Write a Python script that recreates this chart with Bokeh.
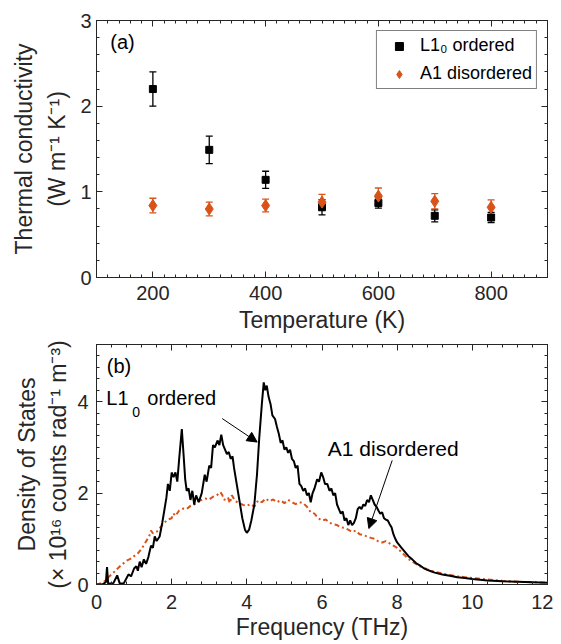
import numpy as np
from bokeh.plotting import figure
from bokeh.models import (ColumnDataSource, Whisker, TeeHead, LinearAxis, FixedTicker,
                          Range1d, Legend, LegendItem, Label, Arrow, NormalHead)
from bokeh.layouts import column
from bokeh.embed import file_html
from bokeh.resources import INLINE

# ---------------- panel (a): thermal conductivity ----------------
temperature = [200, 300, 400, 500, 600, 700, 800]
k_ordered = [2.20, 1.49, 1.14, 0.82, 0.87, 0.72, 0.70]
k_ordered_err = [0.20, 0.16, 0.10, 0.09, 0.06, 0.07, 0.06]
k_disordered = [0.84, 0.80, 0.84, 0.88, 0.95, 0.89, 0.82]
k_disordered_err = [0.085, 0.08, 0.075, 0.09, 0.095, 0.09, 0.085]
temp_ticks = [200, 400, 600, 800]
k_ticks = [0, 1, 2, 3]

# ---------------- panel (b): density of states ----------------
freq_ordered = [0.0, 0.15, 0.25, 0.28, 0.31, 0.45, 0.55, 0.62, 0.73, 0.85, 0.92, 1.0, 1.06, 1.1,
                1.15, 1.2, 1.26, 1.32, 1.38, 1.45, 1.5, 1.55, 1.6, 1.68, 1.75, 1.8, 1.86, 1.9,
                1.95, 2.0, 2.05, 2.1, 2.15, 2.2, 2.27, 2.32, 2.36, 2.4, 2.45, 2.5, 2.55, 2.6,
                2.65, 2.72, 2.8, 2.88, 2.93, 3.0, 3.05, 3.1, 3.15, 3.22, 3.27, 3.32, 3.37, 3.42,
                3.47, 3.52, 3.57, 3.62, 3.66, 3.72, 3.8, 3.88, 3.95, 4.0, 4.06, 4.12, 4.2, 4.27,
                4.33, 4.4, 4.45, 4.49, 4.53, 4.58, 4.63, 4.68, 4.75, 4.8, 4.85, 4.9, 4.95, 5.0,
                5.05, 5.1, 5.15, 5.2, 5.25, 5.3, 5.35, 5.4, 5.45, 5.5, 5.55, 5.6, 5.65, 5.7,
                5.75, 5.8, 5.87, 5.92, 5.98, 6.03, 6.08, 6.14, 6.2, 6.25, 6.3, 6.35, 6.4, 6.45,
                6.5, 6.55, 6.6, 6.65, 6.7, 6.75, 6.8, 6.85, 6.9, 6.95, 7.0, 7.05, 7.1, 7.15,
                7.2, 7.25, 7.3, 7.35, 7.4, 7.45, 7.5, 7.55, 7.6, 7.65, 7.7, 7.75, 7.8, 7.85,
                7.9, 7.95, 8.0, 8.1, 8.2, 8.3, 8.4, 8.5, 8.6, 8.7, 8.8, 8.9, 9.0, 9.2, 9.4,
                9.6, 9.8, 10.0, 10.4, 10.8, 11.2, 11.6, 12.0]
dos_ordered = [0.0, 0.0, 0.05, 0.38, 0.02, 0.03, 0.20, 0.02, 0.03, 0.22, 0.18, 0.35, 0.40, 0.30,
               0.50, 0.38, 0.55, 0.45, 0.60, 0.85, 0.80, 1.05, 0.95, 1.05, 1.35, 1.6, 1.9, 2.2,
               2.05, 2.45, 2.35, 2.45, 2.25, 2.75, 3.40, 2.8, 2.3, 2.05, 2.1, 1.85, 2.05, 1.75,
               1.95, 1.80, 2.0, 2.40, 2.25, 2.6, 2.55, 3.05, 3.0, 3.15, 3.05, 3.28, 3.05, 2.95,
               2.85, 2.90, 2.75, 2.80, 2.55, 2.25, 1.85, 1.45, 1.2, 1.13, 1.2, 1.4, 1.75, 2.4,
               3.2, 3.95, 4.42, 4.25, 4.35, 4.1, 3.95, 3.7, 3.62, 3.45, 3.3, 3.1, 3.15, 2.95,
               3.0, 2.88, 2.95, 2.75, 2.7, 2.55, 2.6, 2.2, 2.15, 2.05, 2.1, 1.95, 2.0, 1.8,
               2.0, 2.1, 2.3, 2.25, 2.45, 2.35, 2.2, 2.2, 2.05, 2.1, 1.95, 2.0, 1.75, 1.65,
               1.55, 1.6, 1.4, 1.45, 1.3, 1.4, 1.3, 1.35, 1.45, 1.65, 1.7, 1.65, 1.75, 1.72,
               1.85, 1.8, 1.95, 1.85, 1.75, 1.7, 1.62, 1.55, 1.58, 1.45, 1.42, 1.4, 1.32, 1.25,
               1.1, 1.0, 0.92, 0.82, 0.72, 0.62, 0.55, 0.47, 0.42, 0.36, 0.32, 0.29, 0.26, 0.22,
               0.19, 0.16, 0.14, 0.12, 0.09, 0.07, 0.06, 0.05, 0.04]

freq_disordered = [0.0, 0.1, 0.2, 0.3, 0.4, 0.5, 0.6, 0.7, 0.8, 0.9, 1.0, 1.1, 1.2, 1.3, 1.4,
                   1.45, 1.5, 1.6, 1.7, 1.8, 1.9, 2.0, 2.05, 2.1, 2.2, 2.3, 2.4, 2.5, 2.6, 2.7,
                   2.8, 2.9, 3.0, 3.1, 3.2, 3.3, 3.35, 3.4, 3.5, 3.55, 3.6, 3.7, 3.8, 3.9, 4.0,
                   4.1, 4.2, 4.3, 4.4, 4.5, 4.6, 4.7, 4.8, 4.9, 5.0, 5.1, 5.2, 5.3, 5.4, 5.5,
                   5.6, 5.7, 5.8, 5.9, 6.0, 6.1, 6.2, 6.3, 6.4, 6.5, 6.6, 6.7, 6.8, 6.9, 7.0,
                   7.1, 7.2, 7.3, 7.4, 7.5, 7.6, 7.7, 7.8, 7.9, 8.0, 8.1, 8.2, 8.3, 8.4, 8.5,
                   8.6, 8.7, 8.8, 8.9, 9.0, 9.2, 9.4, 9.6, 9.8, 10.0, 10.4, 10.8, 11.2, 11.6, 12.0]
dos_disordered = [0.0, 0.02, 0.06, 0.15, 0.22, 0.30, 0.38, 0.45, 0.52, 0.56, 0.62, 0.68, 0.78,
                  0.92, 1.05, 1.18, 1.12, 1.15, 1.25, 1.35, 1.42, 1.45, 1.55, 1.50, 1.62, 1.66,
                  1.65, 1.72, 1.75, 1.82, 1.85, 1.88, 1.86, 1.92, 1.95, 2.02, 1.95, 1.85, 1.90,
                  1.78, 1.95, 1.82, 1.78, 1.74, 1.72, 1.76, 1.70, 1.84, 1.80, 1.88, 1.82, 1.86,
                  1.80, 1.84, 1.78, 1.85, 1.80, 1.76, 1.80, 1.78, 1.70, 1.58, 1.55, 1.45, 1.40,
                  1.42, 1.35, 1.32, 1.30, 1.25, 1.24, 1.20, 1.15, 1.18, 1.10, 1.08, 1.05, 1.02,
                  1.00, 0.94, 0.92, 0.95, 0.90, 0.85, 0.80, 0.72, 0.64, 0.56, 0.50, 0.45, 0.40,
                  0.37, 0.33, 0.30, 0.28, 0.24, 0.21, 0.18, 0.16, 0.14, 0.11, 0.08, 0.06, 0.05,
                  0.04]
freq_ticks = [0, 2, 4, 6, 8, 10, 12]
dos_ticks = [0, 2, 4]

# ---------------- styling ----------------
FONT = "Liberation Sans"
AX = "#262626"
ORANGE = "#D95319"
TICK_FS = "20px"
LABEL_FS = "23px"


def style_axis(ax, ticker, labels=True):
    ax.ticker = ticker
    ax.axis_line_color = AX
    ax.axis_line_width = 1
    ax.major_tick_line_color = AX
    ax.minor_tick_line_color = AX
    ax.major_tick_in = 6
    ax.major_tick_out = 0
    ax.minor_tick_in = 3
    ax.minor_tick_out = 0
    ax.major_label_text_font = FONT
    ax.major_label_text_color = AX
    ax.axis_label_text_font = FONT
    ax.axis_label_text_font_style = "normal"
    ax.axis_label_text_color = AX
    ax.axis_label_text_font_size = LABEL_FS
    if labels:
        ax.major_label_text_font_size = TICK_FS
    else:
        ax.major_label_text_font_size = "0px"
        ax.major_label_standoff = 0
        ax.major_label_overrides = {t: "" for t in ticker.ticks}


def make_fig(width, height, xr, yr, borders):
    p = figure(width=width, height=height, x_range=Range1d(*xr), y_range=Range1d(*yr),
               output_backend="svg", toolbar_location=None)
    p.min_border_left, p.min_border_right, p.min_border_top, p.min_border_bottom = borders
    p.xgrid.visible = False
    p.ygrid.visible = False
    p.outline_line_color = AX
    p.background_fill_color = "white"
    p.border_fill_color = "white"
    return p


def add_box(p, xticker, yticker):
    top = LinearAxis()
    right = LinearAxis()
    style_axis(top, xticker, labels=False)
    style_axis(right, yticker, labels=False)
    p.add_layout(top, "above")
    p.add_layout(right, "right")


# ---------------- figure (a) ----------------
p1 = make_fig(553, 337, (100, 900), (0, 3), (92, 6, 20, 60))
xt1 = FixedTicker(ticks=temp_ticks, minor_ticks=list(np.arange(100, 901, 20)))
yt1 = FixedTicker(ticks=k_ticks, minor_ticks=list(np.round(np.arange(0, 3.01, 0.2), 2)))
xa1 = p1.xaxis[0]
ya1 = p1.yaxis[0]
style_axis(xa1, xt1)
style_axis(ya1, yt1)
add_box(p1, xt1, yt1)
xa1.axis_label = "Temperature (K)"
ya1.axis_label = "Thermal conductivity\n(W m\u207b\u00b9 K\u207b\u00b9)"
xa1.major_label_standoff = 8
xa1.axis_label_standoff = 4
ya1.major_label_standoff = 5
ya1.axis_label_standoff = 7
ya1.axis_label_text_line_height = 1.3

src_o = ColumnDataSource(dict(t=temperature, k=k_ordered,
                              lo=[a - b for a, b in zip(k_ordered, k_ordered_err)],
                              hi=[a + b for a, b in zip(k_ordered, k_ordered_err)]))
src_d = ColumnDataSource(dict(t=temperature, k=k_disordered,
                              lo=[a - b for a, b in zip(k_disordered, k_disordered_err)],
                              hi=[a + b for a, b in zip(k_disordered, k_disordered_err)]))

for src, col in ((src_o, "black"), (src_d, ORANGE)):
    w = Whisker(source=src, base="t", upper="hi", lower="lo", line_color=col, line_width=1.3,
                upper_head=TeeHead(size=7, line_color=col, line_width=1.3),
                lower_head=TeeHead(size=7, line_color=col, line_width=1.3))
    p1.add_layout(w)

r_o = p1.scatter("t", "k", source=src_o, marker="square", size=7, fill_color="black",
                 line_color="black")
r_d = p1.scatter("t", "k", source=src_d, marker="diamond", size=12, fill_color=ORANGE,
                 line_color=ORANGE)

legend = Legend(items=[LegendItem(label="L1\u2080 ordered", renderers=[r_o]),
                       LegendItem(label="A1 disordered", renderers=[r_d])],
                location="top_right", margin=10, padding=4, spacing=7,
                glyph_width=36, glyph_height=20, label_height=18, label_standoff=3,
                label_text_font=FONT, label_text_font_size="18px", label_text_color="black",
                border_line_color="black", border_line_width=1, background_fill_alpha=1)
p1.add_layout(legend)

p1.add_layout(Label(x=124.4, y=2.625, text="(a)", text_font=FONT, text_font_size="20px",
                    text_color="black"))

# ---------------- figure (b) ----------------
p2 = make_fig(553, 307, (0, 12), (0, 5.25), (96, 6, 7, 60))
xt2 = FixedTicker(ticks=freq_ticks, minor_ticks=list(np.round(np.arange(0, 12.01, 0.4), 2)))
yt2 = FixedTicker(ticks=dos_ticks, minor_ticks=list(np.round(np.arange(0, 5.26, 0.25), 2)))
xa2 = p2.xaxis[0]
ya2 = p2.yaxis[0]
style_axis(xa2, xt2)
style_axis(ya2, yt2)
add_box(p2, xt2, yt2)
xa2.axis_label = "Frequency (THz)"
ya2.axis_label = "Density of States\n(\u00d7 10\u00b9\u2076 counts rad\u207b\u00b9 m\u207b\u00b3)"
xa2.major_label_standoff = 10
xa2.axis_label_standoff = 2
ya2.major_label_standoff = 8
ya2.axis_label_standoff = 3
ya2.axis_label_text_line_height = 1.2

p2.line(freq_disordered, dos_disordered, line_color=ORANGE, line_width=2,
        line_dash="5 3 2 3")
p2.line(freq_ordered, dos_ordered, line_color="black", line_width=2)

p2.add_layout(Label(x=0.274, y=4.53, text="(b)", text_font=FONT, text_font_size="20px",
                    text_color="black"))
p2.add_layout(Label(x=0.26, y=3.85, text="L1", text_font=FONT, text_font_size="20px",
                    text_color="black"))
p2.add_layout(Label(x=0.26, y=3.675, x_offset=26, text="0", text_font=FONT,
                    text_font_size="14px", text_color="black"))
p2.add_layout(Label(x=0.26, y=3.85, x_offset=41, text="ordered", text_font=FONT,
                    text_font_size="20px", text_color="black"))
p2.add_layout(Label(x=6.155, y=2.72, text="A1 disordered", text_font=FONT,
                    text_font_size="21px", text_color="black"))

p2.add_layout(Arrow(x_start=3.345, y_start=3.63, x_end=4.276, y_end=3.115, line_width=1,
                    line_color="black",
                    end=NormalHead(size=10, fill_color="black", line_color="black")))
p2.add_layout(Arrow(x_start=7.868, y_start=2.716, x_end=7.246, y_end=1.224, line_width=1,
                    line_color="black",
                    end=NormalHead(size=10, fill_color="black", line_color="black")))

layout = column(p1, p2, spacing=0)
open("out.html", "w").write(file_html(layout, INLINE))
